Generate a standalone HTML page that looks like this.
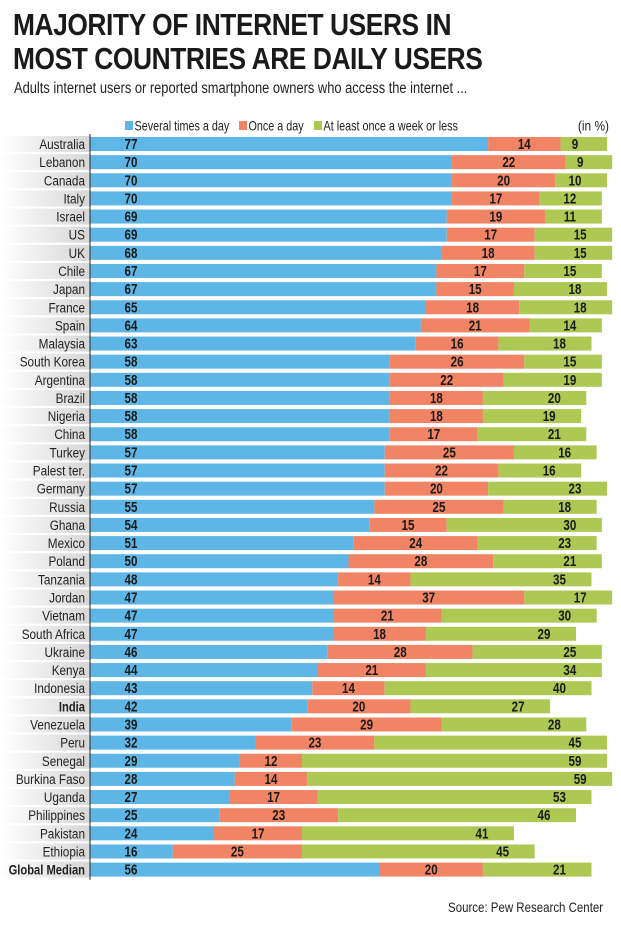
<!DOCTYPE html>
<html><head><meta charset="utf-8">
<style>
body{margin:0;background:#fff;width:621px;height:932px;overflow:hidden;font-family:"Liberation Sans Narrow","Liberation Sans",sans-serif;}
.t{position:absolute;left:13px;font-weight:bold;font-size:31px;color:#1a1a1a;letter-spacing:-0.5px;white-space:nowrap;transform-origin:left top;transform:scaleX(0.85);}
</style></head><body>
<div class="t" style="top:7px;">MAJORITY OF INTERNET USERS IN</div>
<div class="t" style="top:41px;">MOST COUNTRIES ARE DAILY USERS</div>
<div style="position:absolute;left:14px;top:80px;font-size:15.5px;color:#222;white-space:nowrap;transform-origin:left top;transform:scaleX(0.83);">Adults internet users or reported smartphone owners who access the internet ...</div>
<svg id="chart" width="621" height="932" style="position:absolute;left:0;top:0;">
<defs><linearGradient id="lg" x1="0" x2="1" y1="0" y2="0"><stop offset="0" stop-color="#fff"/><stop offset="1" stop-color="#d6d6d6"/></linearGradient></defs>
</svg>
<div style="position:absolute;right:18px;top:899px;font-size:14px;color:#222;white-space:nowrap;transform-origin:right top;transform:scaleX(0.82);">Source: Pew Research Center</div>
<script>
const countries=["Australia","Lebanon","Canada","Italy","Israel","US","UK","Chile","Japan","France","Spain","Malaysia","South Korea","Argentina","Brazil","Nigeria","China","Turkey","Palest ter.","Germany","Russia","Ghana","Mexico","Poland","Tanzania","Jordan","Vietnam","South Africa","Ukraine","Kenya","Indonesia","India","Venezuela","Peru","Senegal","Burkina Faso","Uganda","Philippines","Pakistan","Ethiopia","Global Median"];
const several=[77,70,70,70,69,69,68,67,67,65,64,63,58,58,58,58,58,57,57,57,55,54,51,50,48,47,47,47,46,44,43,42,39,32,29,28,27,25,24,16,56];
const onceDay=[14,22,20,17,19,17,18,17,15,18,21,16,26,22,18,18,17,25,22,20,25,15,24,28,14,37,21,18,28,21,14,20,29,23,12,14,17,23,17,25,20];
const weekly=[9,9,10,12,11,15,15,15,18,18,14,18,15,19,20,19,21,16,16,23,18,30,23,21,35,17,30,29,25,34,40,27,28,45,59,59,53,46,41,45,21];
const legendLabels=["Several times a day","Once a day","At least once a week or less"];
const colors=["#5eb6e6","#f08464","#adc953"];
const svg=document.getElementById('chart');
const NS="http://www.w3.org/2000/svg";
const x0=90,k=5.17,y0=137,pitch=18.14,bh=14;
const xs=v=>x0+v*k;
const yr=i=>y0+i*pitch;
function mk(t,a){const e=document.createElementNS(NS,t);for(const n in a)e.setAttribute(n,a[n]);svg.appendChild(e);return e;}
function txt(str,x,y,sx,attrs){const t=mk('text',Object.assign({x:0,y:0,transform:`translate(${x},${y}) scale(${sx},1)`},attrs));t.textContent=str;return t;}
let lx=[125,239,314];
legendLabels.forEach((l,i)=>{
 const r=mk('rect',{x:lx[i],y:121,width:8,height:9,fill:colors[i]});
 
 
 const t=txt(l,lx[i]+9.5,130.5,0.8,{'font-size':13.5,fill:'#222'});
 
 
});
const u=txt("(in %)",609,130.5,0.85,{'font-size':14,fill:'#222','text-anchor':'end'});


countries.forEach((c,i)=>{
 const y=yr(i);
 const bg=mk('rect',{x:0,y:y-1,width:x0,height:bh+2,fill:'url(#lg)'});
 
 
 const bold=(c==="India"||c==="Global Median");
 const lt=txt(c,85,y+12,bold?0.8:0.84,{'font-size':14,'text-anchor':'end',fill:'#222','font-weight':bold?'bold':'normal'});
 
 
 const vals=[several[i],onceDay[i],weekly[i]];
 let acc=0;
 vals.forEach((v,j)=>{
  const a=xs(acc),b=xs(acc+v);acc+=v;
  const r=mk('rect',{x:a,y:y,width:b-a,height:bh,fill:colors[j]});
  
  
  let tx;
  if(j===0)tx=a+41;else if(j===1)tx=(a+b)/2;else tx=Math.max(a+12,b-32);
  const t=txt(v,tx,y+12,0.8,{'font-size':14.5,'font-weight':'bold','text-anchor':'middle',fill:'#1a1a1a'});
  
  
 });
});
const ax=mk('line',{x1:x0,x2:x0,y1:134,y2:yr(countries.length-1)+bh+3,stroke:'#222','stroke-width':1});


</script>
</body></html>
